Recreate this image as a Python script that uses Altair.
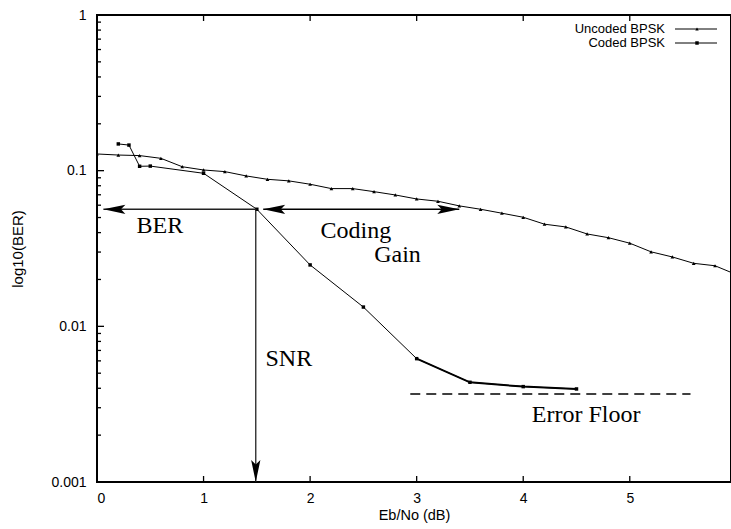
import altair as alt
import pandas as pd

# ---------------- data ----------------
unc_x = [0.0, 0.2, 0.4, 0.6, 0.8, 1.0, 1.2, 1.4, 1.6, 1.8, 2.0, 2.2, 2.4, 2.6, 2.8, 3.0,
         3.2, 3.4, 3.6, 3.8, 4.0, 4.2, 4.4, 4.6, 4.8, 5.0, 5.2, 5.4, 5.6, 5.8, 6.0]
unc_y = [0.128, 0.126, 0.125, 0.120, 0.106, 0.101, 0.0986, 0.0925, 0.088, 0.086, 0.0818,
         0.0767, 0.0767, 0.0733, 0.0698, 0.0658, 0.0636, 0.0594, 0.0565, 0.0533, 0.0502,
         0.0453, 0.0435, 0.0392, 0.0371, 0.0342, 0.0301, 0.0279, 0.0254, 0.0245, 0.0215]

cod_x = [0.2, 0.3, 0.4, 0.5, 1.0, 1.5, 2.0, 2.5, 3.0, 3.5, 4.0, 4.5]
cod_y = [0.1485, 0.146, 0.1067, 0.107, 0.0962, 0.0565, 0.0248, 0.0133, 0.0062, 0.00437,
         0.0041, 0.00396]

series_names = ["Uncoded BPSK", "Coded BPSK"]

x_tick_labels = [0, 1, 2, 3, 4, 5]
y_tick_labels = [0.001, 0.01, 0.1, 1]
y_minor_mult = [2, 3, 4, 5, 6, 7, 8, 9]
y_minor_decades = [0.001, 0.01, 0.1]

# annotations (data coordinates)
ber_arrow_x = [0.06, 1.49]
gain_arrow_x = [1.56, 3.4]
arrow_y = 0.0565
snr_arrow_y = [0.0565, 0.001]
snr_arrow_x = 1.49
floor_x = [2.94, 5.57]
floor_y = 0.00368

ann_labels = ["BER", "Coding", "Gain", "SNR", "Error Floor"]
ann_x = [0.59, 2.43, 2.82, 1.80, 4.59]
ann_y = [0.0438, 0.041, 0.0288, 0.00618, 0.0027]

# ---------------- layout ----------------
W, H = 634, 467
SANS = "Liberation Sans"
SERIF = "Liberation Serif"

xscale = alt.Scale(domain=[0, 5.95], nice=False, zero=False)
yscale = alt.Scale(type="log", domain=[0.001, 1], nice=False)

xaxis = alt.Axis(values=x_tick_labels, format="d", grid=False, ticks=False, tickSize=0,
                 domain=False, labelFont=SANS, labelFontSize=14, labelPadding=9,
                 labelColor="black", title="Eb/No (dB)", titleFont=SANS, titleFontSize=14.5,
                 titleFontWeight="normal", titleColor="black", titlePadding=3)
yaxis = alt.Axis(values=y_tick_labels, format="~g", grid=False, ticks=False, tickSize=0,
                 domain=False, labelFont=SANS, labelFontSize=14, labelPadding=11,
                 labelColor="black", title="log10(BER)", titleFont=SANS, titleFontSize=15,
                 titleFontWeight="normal", titleColor="black", titlePadding=25)


def X(f):
    return alt.X(f, type="quantitative", scale=xscale, axis=xaxis)


def Y(f):
    return alt.Y(f, type="quantitative", scale=yscale, axis=yaxis)


unc = pd.DataFrame({"x": unc_x, "y": unc_y})
cod = pd.DataFrame({"x": cod_x, "y": cod_y})

unc_line = alt.Chart(unc).mark_line(color="black", strokeWidth=1, clip=True).encode(x=X("x"), y=Y("y"))
unc_pts = alt.Chart(unc).mark_point(shape="triangle-up", filled=True, color="black", size=14,
                                     opacity=1, clip=True).encode(x=X("x"), y=Y("y"))
cod_line = alt.Chart(cod).mark_line(color="black", strokeWidth=1).encode(x=X("x"), y=Y("y"))
cod_tail = alt.Chart(cod[cod["x"] >= 3.0]).mark_line(color="black", strokeWidth=2).encode(x=X("x"), y=Y("y"))
cod_pts = alt.Chart(cod).mark_point(shape="square", filled=True, color="black", size=12,
                                     opacity=1).encode(x=X("x"), y=Y("y"))

# arrows
ber_df = pd.DataFrame({"x": [ber_arrow_x[0]], "x2": [ber_arrow_x[1]], "y": [arrow_y]})
ber_rule = alt.Chart(ber_df).mark_rule(color="#222", strokeWidth=1.3).encode(x=X("x"), x2="x2", y=Y("y"))
gain_df = pd.DataFrame({"x": [gain_arrow_x[0]], "x2": [gain_arrow_x[1]], "y": [arrow_y]})
gain_rule = alt.Chart(gain_df).mark_rule(color="black", strokeWidth=1.5).encode(x=X("x"), x2="x2", y=Y("y"))
snr_df = pd.DataFrame({"x": [snr_arrow_x], "y": [snr_arrow_y[0]], "y2": [snr_arrow_y[1]]})
snr_rule = alt.Chart(snr_df).mark_rule(color="#222", strokeWidth=1.3).encode(x=X("x"), y=Y("y"), y2="y2")

LEFT_HEAD = "M0,0L2,-0.42L1.6,0L2,0.42Z"
RIGHT_HEAD = "M0,0L-2,-0.42L-1.6,0L-2,0.42Z"
DOWN_HEAD = "M0,0L-0.42,-2L0,-1.6L0.42,-2Z"

left_heads = pd.DataFrame({"x": [ber_arrow_x[0], gain_arrow_x[0]], "y": [arrow_y, arrow_y]})
right_heads = pd.DataFrame({"x": [gain_arrow_x[1]], "y": [arrow_y]})
down_heads = pd.DataFrame({"x": [snr_arrow_x], "y": [snr_arrow_y[1]]})


def heads(df, path):
    return alt.Chart(df).mark_point(shape=path, filled=True, color="black", size=484,
                                    opacity=1, strokeWidth=0).encode(x=X("x"), y=Y("y"))


floor_df = pd.DataFrame({"x": [floor_x[0]], "x2": [floor_x[1]], "y": [floor_y]})
floor_rule = alt.Chart(floor_df).mark_rule(color="black", strokeWidth=1.5,
                                           strokeDash=[10, 6]).encode(x=X("x"), x2="x2", y=Y("y"))

ann_df = pd.DataFrame({"t": ann_labels, "x": ann_x, "y": ann_y})
ann_text = alt.Chart(ann_df).mark_text(font=SERIF, fontSize=24, color="black", align="center",
                                       baseline="middle").encode(x=X("x"), y=Y("y"), text="t:N")

# inward ticks
ymaj = pd.DataFrame({"v": y_tick_labels})
ymin = pd.DataFrame({"v": [m * d for d in y_minor_decades for m in y_minor_mult]})
xt = pd.DataFrame({"v": x_tick_labels[1:]})
ymaj_rule = alt.Chart(ymaj).mark_rule(color="black", strokeWidth=1.3).encode(
    x=alt.value(0), x2=alt.value(7), y=Y("v"))
ymin_rule = alt.Chart(ymin).mark_rule(color="black", strokeWidth=1.3).encode(
    x=alt.value(0), x2=alt.value(4), y=Y("v"))
xbot_rule = alt.Chart(xt).mark_rule(color="black", strokeWidth=1.3).encode(
    x=X("v"), y=alt.value(H), y2=alt.value(H - 6))
xtop_rule = alt.Chart(xt).mark_rule(color="black", strokeWidth=1.3).encode(
    x=X("v"), y=alt.value(0), y2=alt.value(6))

# legend (gnuplot style: label left, sample right)
leg = pd.DataFrame({"name": series_names})
leg_layers = []
for i, (nm, shp) in enumerate(zip(series_names, ["triangle-up", "square"])):
    ly = 14 + 14 * i
    d = leg[leg["name"] == nm]
    leg_layers.append(alt.Chart(d).mark_text(font=SANS, fontSize=13, color="black", align="right",
                                             baseline="middle").encode(
        text="name:N", x=alt.value(568), y=alt.value(ly)))
    leg_layers.append(alt.Chart(d).mark_rule(color="black", strokeWidth=1).encode(
        x=alt.value(578), x2=alt.value(620), y=alt.value(ly)))
    leg_layers.append(alt.Chart(d).mark_point(shape=shp, filled=True, color="black", size=12,
                                              opacity=1).encode(x=alt.value(600), y=alt.value(ly)))

chart = alt.layer(
    unc_line, unc_pts, cod_line, cod_tail, cod_pts,
    ber_rule, gain_rule, snr_rule,
    heads(left_heads, LEFT_HEAD), heads(right_heads, RIGHT_HEAD), heads(down_heads, DOWN_HEAD),
    floor_rule, ann_text,
    ymaj_rule, ymin_rule, xbot_rule, xtop_rule,
    *leg_layers,
).properties(
    width=W, height=H,
    autosize=alt.AutoSizeParams(type="none"),
    padding={"left": 97, "top": 15, "right": 0, "bottom": 47},
    background="white",
).configure_view(stroke="black", strokeWidth=2)

chart.save("out.html", embed_options={"renderer": "svg", "actions": False})
